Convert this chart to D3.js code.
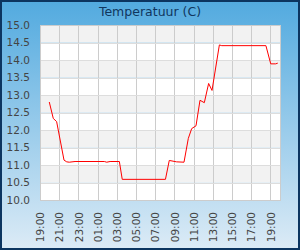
<!DOCTYPE html>
<html>
<head>
<meta charset="utf-8">
<script src="https://cdn.jsdelivr.net/npm/d3@7"></script>
<style>
  html, body { margin: 0; padding: 0; background: #fff; }
  svg { display: block; font-family: "DejaVu Sans", sans-serif; }
</style>
</head>
<body>
<div class="canvas"></div>
<script>
// temperature log, times as HH:MM (day rolls over after midnight)
let times = [
    '19:58', '20:23', '20:44', '21:30', '21:47', '22:03', '22:39', '01:42', '01:57', '02:18',
    '03:16', '03:34', '08:04', '08:28', '09:14', '10:00', '10:27', '10:48', '11:15', '11:40',
    '12:07', '12:34', '12:55', '13:41', '13:56', '18:32', '19:02', '19:33', '19:46'
]
let temps = [
    12.80, 12.33, 12.24, 11.14, 11.09, 11.08, 11.10, 11.10, 11.08, 11.10,
    11.10, 10.59, 10.59, 11.13, 11.09, 11.08, 11.76, 12.04, 12.12, 12.85,
    12.78, 13.33, 13.13, 14.43, 14.41, 14.41, 13.89, 13.89, 13.91
]
let yTicks = [10.0, 10.5, 11.0, 11.5, 12.0, 12.5, 13.0, 13.5, 14.0, 14.5, 15.0]
let title = 'Temperatuur (C)'

let width = 300,
    height = 250,
    margin = { top: 25, right: 20, bottom: 50, left: 40 }

let start = new Date(2024, 0, 1, 19, 0)
let end = new Date(2024, 0, 2, 20, 0)

// build dates from the clock strings
let data = []
let day = 1
let prev = -1
times.forEach((t, i) => {
    let [h, m] = t.split(':').map(Number)
    let mins = h * 60 + m
    if (mins < prev) day++
    prev = mins
    data.push({ date: new Date(2024, 0, day, h, m), temp: temps[i] })
})

let x = d3.scaleTime().domain([start, end]).range([margin.left, width - margin.right])
let y = d3.scaleLinear().domain([10, 15]).range([height - margin.bottom, margin.top])

let svg = d3.select('.canvas').append('svg')
    .attr('width', width)
    .attr('height', height)

// BACKGROUND
let grad = svg.append('defs').append('linearGradient')
    .attr('id', 'bg').attr('x1', 0).attr('y1', 0).attr('x2', 0).attr('y2', 1)
grad.append('stop').attr('offset', '0%').attr('stop-color', '#52aadf')
grad.append('stop').attr('offset', '100%').attr('stop-color', '#dcebf6')

svg.append('rect')
    .attr('x', 1).attr('y', 1)
    .attr('width', width - 2).attr('height', height - 2)
    .attr('fill', 'url(#bg)')
    .attr('stroke', '#0c3560')
    .attr('stroke-width', 2)

svg.append('text')
    .text(title)
    .attr('x', width / 2)
    .attr('y', 16)
    .attr('text-anchor', 'middle')
    .attr('fill', '#10365e')
    .style('font-size', '12.5px')

// PLOT BANDS
let bands = d3.pairs(yTicks)
svg.selectAll('.band')
    .data(bands)
    .enter().append('rect').classed('band', true)
    .attr('x', margin.left)
    .attr('width', width - margin.left - margin.right)
    .attr('y', d => y(d[1]))
    .attr('height', d => y(d[0]) - y(d[1]))
    .attr('fill', (d, i) => i % 2 === 0 ? '#ffffff' : '#f2f2f2')

// GRID (every 2 hours from the start, odd hours)
let xTicks = d3.timeHour.range(start, end, 2)
svg.selectAll('.vgrid')
    .data(xTicks)
    .enter().append('line').classed('vgrid', true)
    .attr('x1', d => Math.round(x(d)) + 0.5)
    .attr('x2', d => Math.round(x(d)) + 0.5)
    .attr('y1', margin.top)
    .attr('y2', height - margin.bottom)
    .attr('stroke', '#cccccc')

svg.selectAll('.hgrid')
    .data(yTicks)
    .enter().append('line').classed('hgrid', true)
    .attr('x1', margin.left)
    .attr('x2', width - margin.right)
    .attr('y1', d => Math.round(y(d)) + 0.5)
    .attr('y2', d => Math.round(y(d)) + 0.5)
    .attr('stroke', '#dddddd')

svg.append('rect')
    .attr('x', margin.left + 0.5)
    .attr('y', margin.top + 0.5)
    .attr('width', width - margin.left - margin.right)
    .attr('height', height - margin.top - margin.bottom)
    .attr('fill', 'none')
    .attr('stroke', '#cccccc')

// AXES LABELS
let yAxis = svg.append('g')
    .attr('transform', `translate(${margin.left}, 0)`)
    .call(d3.axisLeft(y).tickValues(yTicks).tickFormat(d3.format('.1f')).tickSize(0).tickPadding(10))
yAxis.select('.domain').remove()
yAxis.selectAll('text')
    .attr('fill', '#444')
    .style('font-size', '10.5px')
    .style('font-family', '"DejaVu Sans", sans-serif')

let xAxis = svg.append('g')
    .attr('transform', `translate(0, ${height - margin.bottom})`)
    .call(d3.axisBottom(x).tickValues(xTicks).tickFormat(d3.timeFormat('%H:%M')).tickSize(0))
xAxis.select('.domain').remove()
xAxis.selectAll('text')
    .attr('fill', '#444')
    .attr('transform', 'rotate(-90)')
    .attr('text-anchor', 'end')
    .attr('x', -12)
    .attr('y', 0)
    .attr('dy', '0.35em')
    .style('font-size', '10.5px')
    .style('font-family', '"DejaVu Sans", sans-serif')

// LINE
svg.append('path')
    .datum(data)
    .attr('fill', 'none')
    .attr('stroke', '#ff0000')
    .attr('stroke-width', 1)
    .attr('d', d3.line().x(d => x(d.date)).y(d => y(d.temp)))
</script>
</body>
</html>
